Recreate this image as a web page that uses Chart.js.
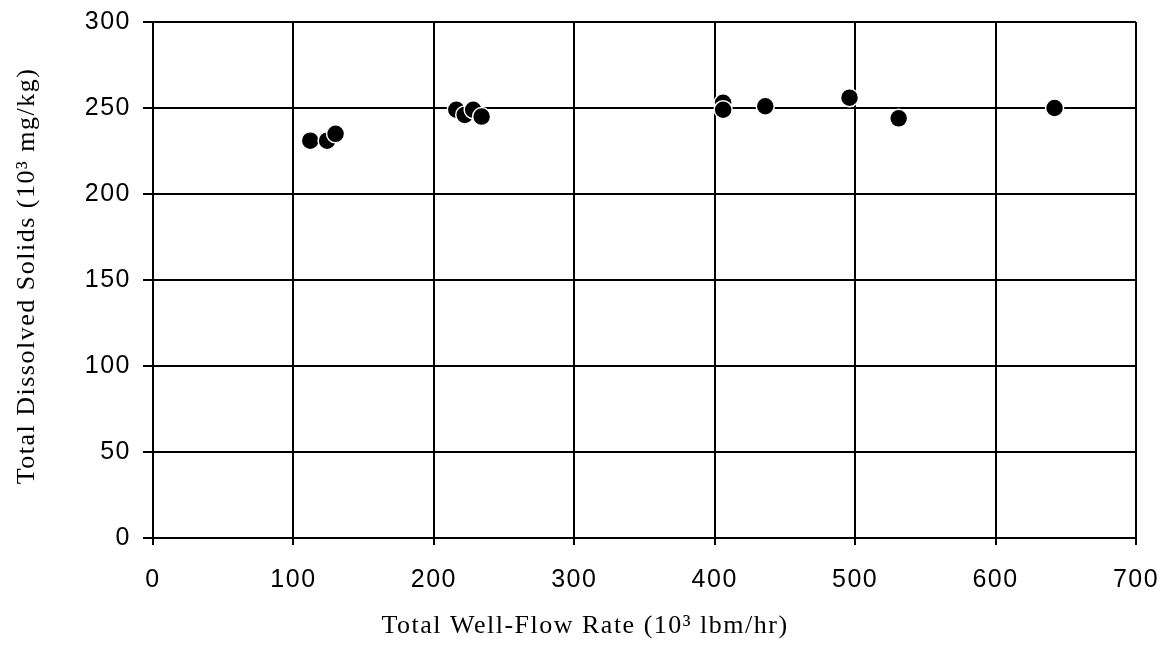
<!DOCTYPE html>
<html>
<head>
<meta charset="utf-8">
<script src="https://cdn.jsdelivr.net/npm/chart.js@4/dist/chart.umd.min.js"></script>
<style>
html,body{margin:0;padding:0;background:#fff;}
#wrap{width:1172px;height:648px;}
</style>
</head>
<body>
<div id="wrap"><canvas id="c" width="1172" height="648"></canvas></div>
<script>
const flowRate = [112, 124, 130, 216, 222, 228, 234, 406, 406, 436, 496, 531, 642];
const dissolvedSolids = [231, 231, 235, 249, 246, 249, 245, 253, 249, 251, 256, 244, 250];
const xTicks = [0, 100, 200, 300, 400, 500, 600, 700];
const yTicks = [0, 50, 100, 150, 200, 250, 300];
const xTitle = 'Total Well-Flow Rate (10\u00B3 lbm/hr)';
const yTitle = 'Total Dissolved Solids (10\u00B3 mg/kg)';

const points = flowRate.map((x, i) => ({x: x, y: dissolvedSolids[i]}));

const titleFont = '26px "Liberation Serif", "Times New Roman", serif';

const spacing = {
  id: 'spacing',
  beforeLayout(chart) { chart.ctx.letterSpacing = '1.5px'; },
  beforeDraw(chart) { chart.ctx.letterSpacing = '1.5px'; },
  afterDraw(chart) {
    const ctx = chart.ctx;
    ctx.save();
    ctx.letterSpacing = '1.5px';
    ctx.fillStyle = '#000';
    ctx.font = titleFont;
    ctx.textAlign = 'center';
    ctx.textBaseline = 'middle';
    ctx.fillText(xTitle, 585, 626);
    ctx.translate(27, 276);
    ctx.rotate(-Math.PI / 2);
    ctx.fillText(yTitle, 0, 0);
    ctx.restore();
  }
};

new Chart(document.getElementById('c'), {
  type: 'scatter',
  data: {
    datasets: [{
      data: points,
      backgroundColor: '#000',
      borderColor: '#fff',
      borderWidth: 1.5,
      pointRadius: 9,
      pointHoverRadius: 9
    }]
  },
  plugins: [spacing],
  options: {
    responsive: false,
    animation: false,
    layout: {padding: {left: 0, right: 36, top: 22, bottom: 0}},
    plugins: {legend: {display: false}, tooltip: {enabled: false}},
    scales: {
      x: {
        type: 'linear', min: 0, max: 700,
        afterBuildTicks: s => { s.ticks = xTicks.map(v => ({value: v})); },
        afterFit: s => { s.height = 110; s.paddingLeft = 0; s.paddingRight = 0; },
        grid: {color: '#000', lineWidth: 2, tickLength: 7, drawTicks: true},
        border: {color: '#000', width: 2},
        ticks: {color: '#000', padding: 20, maxRotation: 0,
          font: {family: 'Liberation Sans, Arial, sans-serif', size: 25}},
        title: {display: false}
      },
      y: {
        type: 'linear', min: 0, max: 300,
        afterBuildTicks: s => { s.ticks = yTicks.map(v => ({value: v})); },
        afterFit: s => { s.width = 153; s.paddingTop = 0; s.paddingBottom = 0; },
        grid: {color: '#000', lineWidth: 2, tickLength: 10, drawTicks: true},
        border: {color: '#000', width: 2},
        ticks: {color: '#000', padding: 12,
          font: {family: 'Liberation Sans, Arial, sans-serif', size: 25}},
        title: {display: false}
      }
    }
  }
});
</script>
</body>
</html>
